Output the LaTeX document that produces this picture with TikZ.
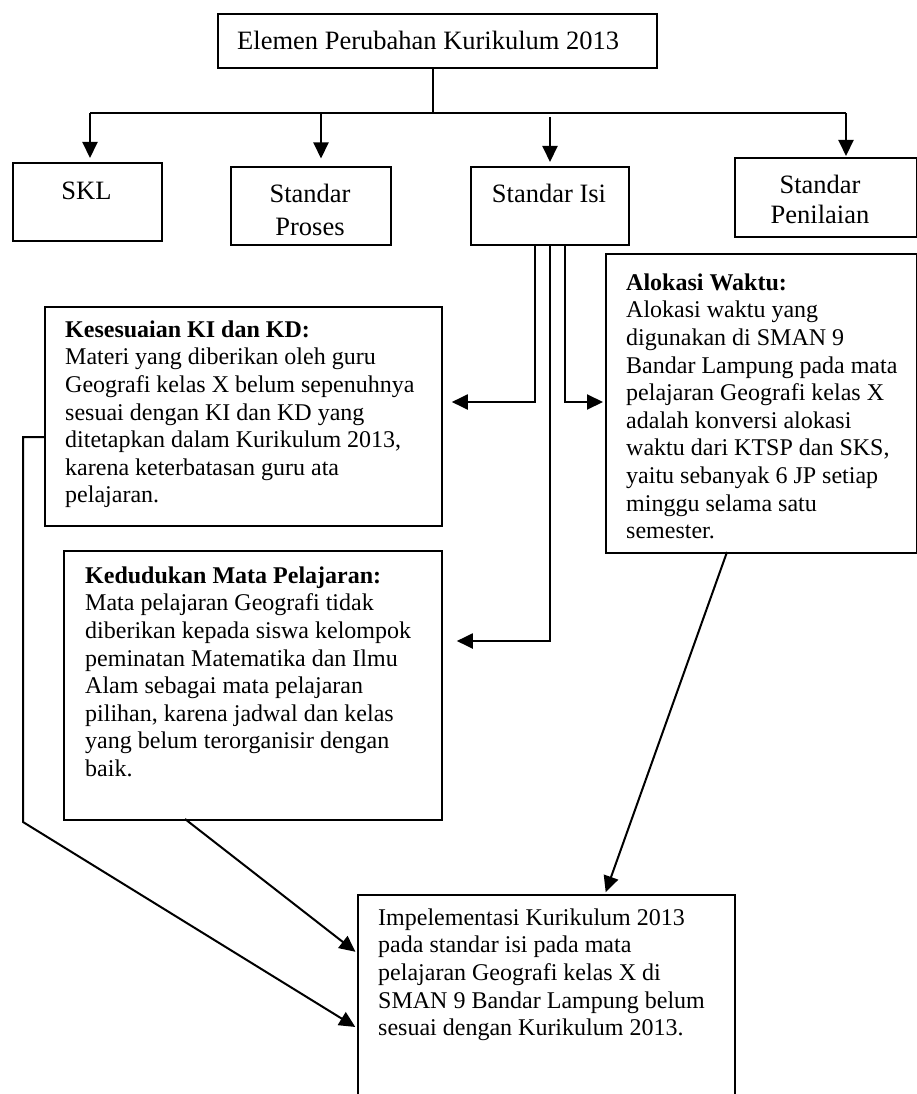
\documentclass[tikz,border=0pt]{standalone}
\usepackage{fontspec}
\setmainfont{Liberation Serif}
\usetikzlibrary{arrows.meta}
\begin{document}
\begin{tikzpicture}[x=1pt,y=-1pt,
  box/.style={draw, line width=1.8pt, inner sep=0pt, anchor=north west},
  conn/.style={line width=2pt},
  arr/.style={conn, -{Triangle[length=16pt,width=15pt]}},
  big/.style={font=\fontsize{26.5}{30.5}\selectfont, inner sep=0pt},
  txt/.style={font=\fontsize{24}{27.6}\selectfont, inner sep=0pt, align=left, anchor=north west}]
\useasboundingbox (0,0) rectangle (917,1094);
\fill[white] (0,0) rectangle (917,1094);
\clip (0,0) rectangle (917,1094);

% boxes
\node[box, minimum width=439pt, minimum height=54pt] (top) at (217,13) {};
\node[box, minimum width=149pt, minimum height=78pt] (skl) at (12,162) {};
\node[box, minimum width=160pt, minimum height=78pt] (proses) at (230,166) {};
\node[box, minimum width=158pt, minimum height=78pt] (isi) at (470,166) {};
\node[box, minimum width=181.5pt, minimum height=79pt] (nilai) at (734,157) {};
\node[box, minimum width=397pt, minimum height=219pt] (kes) at (44,306) {};
\node[box, minimum width=378pt, minimum height=269pt] (ked) at (63,550) {};
\node[box, minimum width=310.5pt, minimum height=299pt] (alo) at (605,253) {};
\node[box, minimum width=377pt, minimum height=220pt] (impl) at (357,894) {};

% texts
\node[big, anchor=base west] (ttop) at (237,50) {Elemen Perubahan Kurikulum 2013};
\node[big, anchor=base] (tskl) at (86.5,200) {SKL};
\node[big, anchor=base] (tisi) at (549,202) {Standar Isi};
\node[big, align=center, anchor=north] (tnilai) at (820,171.65) {\strut Standar\\Penilaian};
\begin{scope}
\clip (230,166) rectangle (390,235.5);
\node[big, align=center, anchor=north] (tproses) at (310,180.65) {\strut Standar\\[3pt]Proses};
\end{scope}

\node[txt] (tkes) at (65,317.68) {\strut\textbf{Kesesuaian KI dan KD:}\\
Materi yang diberikan oleh guru\\
Geografi kelas X belum sepenuhnya\\
sesuai dengan KI dan KD yang\\
ditetapkan dalam Kurikulum 2013,\\
karena keterbatasan guru ata\\
pelajaran.};

\node[txt] (tked) at (85,563.68) {\strut\textbf{Kedudukan Mata Pelajaran:}\\
Mata pelajaran Geografi tidak\\
diberikan kepada siswa kelompok\\
peminatan Matematika dan Ilmu\\
Alam sebagai mata pelajaran\\
pilihan, karena jadwal dan kelas\\
yang belum terorganisir dengan\\
baik.};

\node[txt] (talo) at (626,270.68) {\strut\textbf{Alokasi Waktu:}\\
Alokasi waktu yang\\
digunakan di SMAN 9\\
Bandar Lampung pada mata\\
pelajaran Geografi kelas X\\
adalah konversi alokasi\\
waktu dari KTSP dan SKS,\\
yaitu sebanyak 6 JP setiap\\
minggu selama satu\\
semester.};

\node[txt] (timpl) at (378,905.68) {\strut Impelementasi Kurikulum 2013\\
pada standar isi pada mata\\
pelajaran Geografi kelas X di\\
SMAN 9 Bandar Lampung belum\\
sesuai dengan Kurikulum 2013.};

% coordinates
\coordinate (hl) at (433,113);
\coordinate (hlL) at (90,113);
\coordinate (hlR) at (846,113);
\coordinate (proA) at (321,113);
\coordinate (isiA) at (550,117);
\coordinate (y402) at (0,402);
\coordinate (y641) at (0,641);
\coordinate (y437) at (0,437);
\coordinate (y953) at (0,953);
\coordinate (y1028) at (0,1028);
\coordinate (lc1) at (23,437);
\coordinate (lc2) at (23,822);
\coordinate (kedOut) at (185,819);
\coordinate (aloOut) at (727,552);
\coordinate (implTop) at (605,894);

% connectors
\draw[conn] (top.south -| hl) -- (hl);
\draw[conn] (hlL) -- (hlR);
\draw[arr, shorten >=4pt] (hlL) -- (hlL |- skl.north);
\draw[arr, shorten >=7.5pt] (proA) -- (proA |- proses.north);
\draw[arr, shorten >=4pt] (isiA) -- (isiA |- isi.north);
\draw[arr, shorten >=1pt] (hlR) -- (hlR |- nilai.north);

\draw[arr, shorten >=9pt] ([xshift=-15pt]isi.south) |- (kes.east |- y402);
\draw[arr, shorten >=2pt] ([xshift=15pt]isi.south) |- (alo.west |- y402);
\draw[arr, shorten >=14pt] (isi.south) |- (ked.east |- y641);

\draw[arr, shorten >=2pt] (kes.west |- y437) -- (lc1) -- (lc2) -- (impl.west |- y1028);
\draw[arr, shorten >=2pt] (kedOut) -- (impl.west |- y953);
\draw[arr, shorten >=2pt] (aloOut) -- (implTop);
\end{tikzpicture}
\end{document}
